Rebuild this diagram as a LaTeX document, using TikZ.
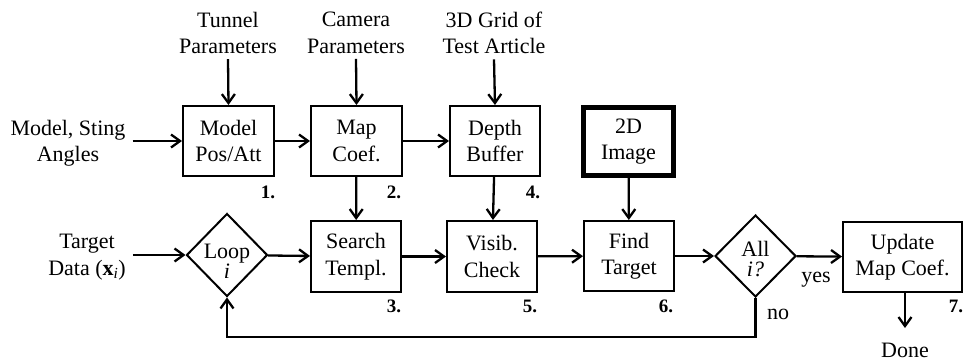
\documentclass[tikz,border=0pt]{standalone}
\usepackage{fontspec}
\setmainfont{Liberation Serif}
\usetikzlibrary{shapes.geometric,arrows.meta}

\begin{document}
\begin{tikzpicture}[x=1pt,y=-1pt,
  font=\fontsize{22}{26.5}\selectfont,
  box/.style={draw, line width=2pt, minimum width=91pt, minimum height=70pt,
              align=center, inner sep=0pt},
  heavybox/.style={box, line width=4.5pt},
  dec/.style={draw, diamond, line width=2pt, minimum width=81pt,
              minimum height=83pt, inner sep=0pt},
  dectext/.style={align=center, inner sep=0pt, font=\fontsize{22}{20}\selectfont},
  lbl/.style={align=center, inner sep=5pt},
  num/.style={font=\fontsize{19}{20}\selectfont\bfseries, inner sep=0pt},
  flow/.style={line width=2.3pt, -{Straight Barb[length=9pt,width=13pt]}}
]
\useasboundingbox (0,0) rectangle (964,362);

% process blocks, upper row
\node[box] (pos) at (228.5,141) {Model\\Pos/Att};
\node[box] (map) at (356.5,141) {Map\\Coef.};
\node[box, minimum width=90pt] (depth) at (495,141) {Depth\\Buffer};
\node[heavybox, minimum width=90pt, minimum height=68pt] (img) at (628.5,141.5) {2D\\Image};

% process blocks, lower row
\node[dec] (loop) at (227,255) {};
\node[dectext] (looptext) at (227,261) {Loop\\\textit{i}};
\node[box, minimum width=90pt, minimum height=71pt] (search) at (356,256.5) {Search\\Templ.};
\node[box, minimum width=90pt, minimum height=71pt] (visib) at (492,256.5) {Visib.\\Check};
\node[box, minimum width=90pt] (find) at (629,256) {Find\\Target};
\node[dec, minimum height=82pt] (all) at (755.5,256) {};
\node[dectext] (alltext) at (755.5,259) {All\\\textit{i?}};
\node[box, minimum width=119pt] (upd) at (902.5,257) {Update\\Map Coef.};

% inputs
\node[lbl] (tun) at (228,33) {Tunnel\\Parameters};
\node[lbl] (cam) at (356,33) {Camera\\Parameters};
\node[lbl] (grid) at (494,33) {3D Grid of\\Test Article};
\node[lbl] (ang) at (68,143) {Model, Sting\\Angles};
\node[lbl] (tgt) at (87,257) {Target\\Data (\textbf{x}\textsubscript{\textit{i}})};
\node[lbl] (done) at (905,350) {Done};
\coordinate (doneend) at (905,328);

% step numbers
\node[num] (n1) at (268,192) {1.};
\node[num] (n2) at (394,192) {2.};
\node[num] (n4) at (533,192) {4.};
\node[num] (n3) at (394,306) {3.};
\node[num] (n5) at (530,306) {5.};
\node[num] (n6) at (666,306) {6.};
\node[num] (n7) at (956,306) {7.};

% branch labels
\node (yes) at (816,280) {yes};
\node (no) at (778,314) {no};

% connectors
\draw[flow] (tun.south) -- (pos.north);
\draw[flow] (cam.south) -- (map.north);
\draw[flow] (grid.south) -- (depth.north);
\draw[flow] (ang.east |- pos.west) ++(2,0) -- (pos.west);
\draw[flow] (tgt.east |- loop.west) ++(2,0) -- (loop.west);
\draw[flow] (pos) -- (map);
\draw[flow] (map) -- (depth);
\draw[flow] (map) -- (search);
\draw[flow] (depth) -- (visib);
\draw[flow] (img) -- (find);
\draw[flow] (loop) -- (search);
\draw[flow] (search) -- (visib);
\draw[flow] (visib) -- (find);
\draw[flow] (find) -- (all);
\draw[flow] (all) -- (upd);
\draw[flow] (all.south) -- ++(0,39) -| (loop.south);
\draw[flow] (upd.south -| doneend) -- (doneend);
\end{tikzpicture}
\end{document}
